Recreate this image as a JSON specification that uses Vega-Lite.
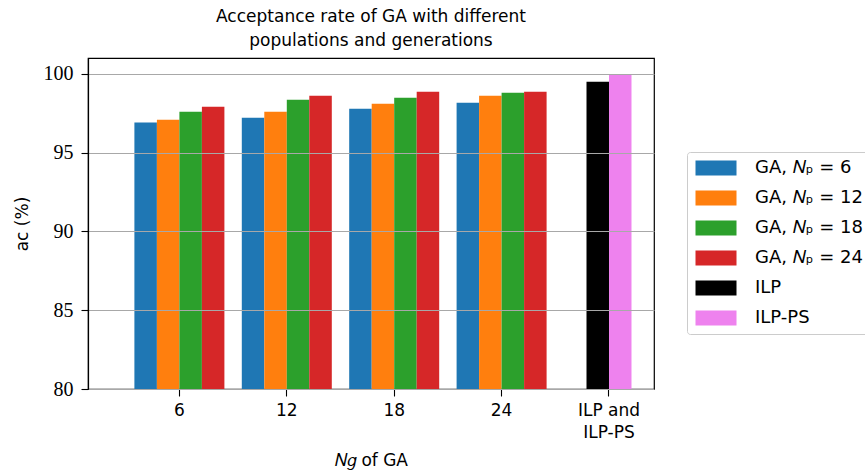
{
  "$schema": "https://vega.github.io/schema/vega-lite/v6.json",
  "width": 566,
  "height": 331,
  "autosize": {"type": "none"},
  "padding": {"left": 88, "top": 58, "right": 211, "bottom": 85},
  "background": "white",
  "title": {
    "text": ["Acceptance rate of GA with different", "populations and generations"],
    "font": "DejaVu Sans",
    "fontSize": 17,
    "fontWeight": "normal",
    "color": "#000",
    "anchor": "middle",
    "lineHeight": 24,
    "offset": 8
  },
  "config": {
    "view": {"stroke": "#000", "strokeWidth": 1.2},
    "axis": {"domainColor": "#000", "tickColor": "#000", "labelColor": "#000", "titleColor": "#000", "domainWidth": 1.2, "tickWidth": 1.1},
    "axisY": {"labelFont": "'Liberation Serif', 'Times New Roman', serif"}
  },
  "data": {
    "values": [
      {"Ng": "6", "series": "GA, 𝑁ₚ = 6", "ac": 96.9},
      {"Ng": "6", "series": "GA, 𝑁ₚ = 12", "ac": 97.08},
      {"Ng": "6", "series": "GA, 𝑁ₚ = 18", "ac": 97.59},
      {"Ng": "6", "series": "GA, 𝑁ₚ = 24", "ac": 97.9},
      {"Ng": "12", "series": "GA, 𝑁ₚ = 6", "ac": 97.21},
      {"Ng": "12", "series": "GA, 𝑁ₚ = 12", "ac": 97.59},
      {"Ng": "12", "series": "GA, 𝑁ₚ = 18", "ac": 98.35},
      {"Ng": "12", "series": "GA, 𝑁ₚ = 24", "ac": 98.6},
      {"Ng": "18", "series": "GA, 𝑁ₚ = 6", "ac": 97.78},
      {"Ng": "18", "series": "GA, 𝑁ₚ = 12", "ac": 98.1},
      {"Ng": "18", "series": "GA, 𝑁ₚ = 18", "ac": 98.48},
      {"Ng": "18", "series": "GA, 𝑁ₚ = 24", "ac": 98.86},
      {"Ng": "24", "series": "GA, 𝑁ₚ = 6", "ac": 98.16},
      {"Ng": "24", "series": "GA, 𝑁ₚ = 12", "ac": 98.6},
      {"Ng": "24", "series": "GA, 𝑁ₚ = 18", "ac": 98.79},
      {"Ng": "24", "series": "GA, 𝑁ₚ = 24", "ac": 98.86},
      {"Ng": "ILP and ILP-PS", "series": "ILP", "ac": 99.49},
      {"Ng": "ILP and ILP-PS", "series": "ILP-PS", "ac": 99.97}
    ]
  },
  "encoding": {
    "x": {
      "field": "Ng",
      "type": "nominal",
      "sort": null,
      "scale": {"type": "band", "domain": ["6", "12", "18", "24", "ILP and ILP-PS"], "paddingInner": 0.162, "paddingOuter": 0.216, "align": 1},
      "axis": {
        "title": "𝑁𝑔 of GA",
        "titleFont": "DejaVu Sans",
        "titleFontSize": 17,
        "titleFontWeight": "normal",
        "titlePadding": 12,
        "labelAngle": 0,
        "labelFont": "DejaVu Sans",
        "labelFontSize": 17,
        "labelPadding": 6,
        "labelLineHeight": 22,
        "labelExpr": "datum.value == 'ILP and ILP-PS' ? ['ILP and', 'ILP-PS'] : datum.value",
        "tickSize": 7,
        "grid": false
      }
    },
    "y": {
      "field": "ac",
      "type": "quantitative",
      "scale": {"domain": [80, 101], "nice": false, "zero": false},
      "axis": {
        "title": "ac (%)",
        "titleFont": "DejaVu Sans",
        "titleFontSize": 17,
        "titleFontWeight": "normal",
        "titlePadding": 12,
        "values": [80, 85, 90, 95, 100],
        "labelFont": "'Liberation Serif', 'Times New Roman', serif",
        "labelFontSize": 20,
        "labelPadding": 8,
        "tickSize": 7,
        "grid": true,
        "gridColor": "#a8a8a8",
        "gridWidth": 1,
        "zindex": 1
      }
    },
    "color": {
      "field": "series",
      "type": "nominal",
      "sort": null,
      "scale": {
        "domain": ["GA, 𝑁ₚ = 6", "GA, 𝑁ₚ = 12", "GA, 𝑁ₚ = 18", "GA, 𝑁ₚ = 24", "ILP", "ILP-PS"],
        "range": ["#1f77b4", "#ff7f0e", "#2ca02c", "#d62728", "#000000", "#ee82ee"]
      },
      "legend": {
        "title": null,
        "orient": "none",
        "legendX": 599,
        "legendY": 94,
        "symbolType": "M-1,-1H4.467V1H-1Z",
        "symbolSize": 225,
        "symbolStrokeWidth": 0,
        "symbolOpacity": 1,
        "labelOffset": 43,
        "labelFont": "DejaVu Sans",
        "labelFontSize": 18,
        "labelColor": "#000",
        "rowPadding": 12,
        "padding": 7,
        "strokeColor": "#cccccc",
        "fillColor": "white",
        "cornerRadius": 3,
        "labelLimit": 300
      }
    }
  },
  "layer": [
    {
      "transform": [{"filter": "datum.Ng != 'ILP and ILP-PS'"}],
      "mark": {"type": "bar", "clip": true},
      "encoding": {
        "xOffset": {
          "field": "series",
          "type": "nominal",
          "sort": null,
          "scale": {"domain": ["GA, 𝑁ₚ = 6", "GA, 𝑁ₚ = 12", "GA, 𝑁ₚ = 18", "GA, 𝑁ₚ = 24"], "paddingInner": 0, "paddingOuter": 0}
        }
      }
    },
    {
      "transform": [{"filter": "datum.Ng == 'ILP and ILP-PS'"}],
      "mark": {"type": "bar", "clip": true},
      "encoding": {
        "xOffset": {
          "field": "series",
          "type": "nominal",
          "sort": null,
          "scale": {"domain": ["ILP", "ILP-PS"], "paddingInner": 0, "paddingOuter": 1}
        }
      }
    }
  ],
  "resolve": {"scale": {"xOffset": "independent"}}
}
